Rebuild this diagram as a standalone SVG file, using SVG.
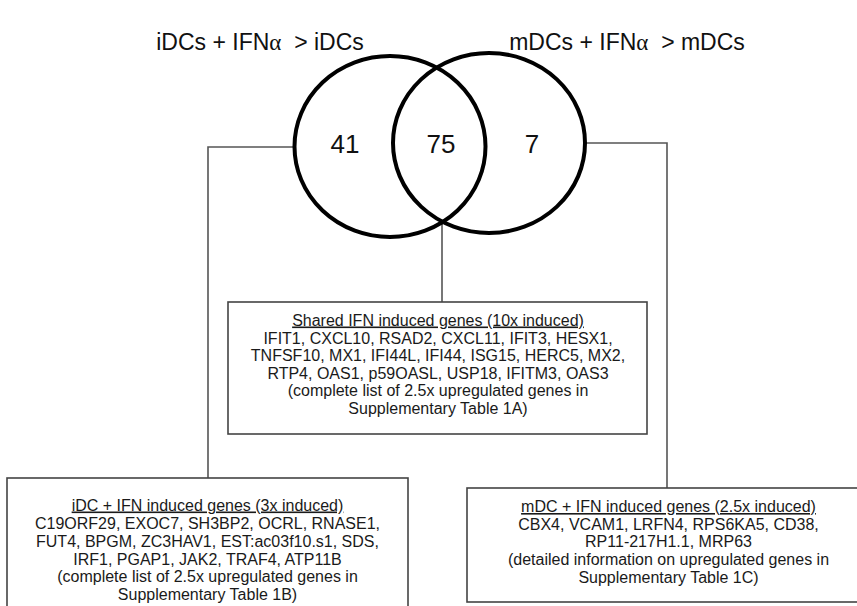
<svg xmlns="http://www.w3.org/2000/svg" width="857" height="606" viewBox="0 0 857 606">
  <style>
    .title { font-family: "Liberation Sans", Arial, sans-serif; font-size: 23px; fill: #111; text-anchor: middle; white-space: pre; }
    .greek { font-family: "Liberation Serif", "Times New Roman", serif; }
    .count { font-family: "Liberation Sans", Arial, sans-serif; font-size: 26px; fill: #111; text-anchor: middle; }
    .set { fill: none; stroke: #000; stroke-width: 4; }
    .box { fill: #fff; stroke: #444; stroke-width: 1.6; }
    .wire { fill: none; stroke: #555; stroke-width: 1.6; }
    .lbl { font-family: "Liberation Sans", Arial, sans-serif; font-size: 16px; fill: #1a1a1a; text-anchor: middle; }
    .head { text-decoration: underline; }
  </style>
  <rect width="857" height="606" fill="#fff"/>

  <!-- set titles -->
  <text class="title" x="260" y="50">iDCs + IFN<tspan class="greek">α</tspan>  &gt; iDCs</text>
  <text class="title" x="627" y="50">mDCs + IFN<tspan class="greek">α</tspan>  &gt; mDCs</text>

  <!-- connectors -->
  <g id="connectors">
    <polyline class="wire" points="294,147 208,147 208,478"/>
    <polyline class="wire" points="442,220 442,302"/>
    <polyline class="wire" points="585,143 667,143 667,488"/>
  </g>

  <!-- Venn sets -->
  <g id="venn">
    <ellipse id="set-idc" class="set" cx="390" cy="146.5" rx="95.5" ry="90.5"/>
    <ellipse id="set-mdc" class="set" cx="489" cy="143" rx="96" ry="90"/>
    <text class="count" x="345" y="153">41</text>
    <text class="count" x="441" y="153">75</text>
    <text class="count" x="532" y="153">7</text>
  </g>

  <!-- shared genes -->
  <g id="shared-box">
    <rect class="box" x="228" y="302" width="419" height="132"/>
    <text class="lbl head" x="438" y="325.5">Shared IFN induced genes (10x induced)</text>
    <text class="lbl" x="438" y="343.5">IFIT1, CXCL10, RSAD2, CXCL11, IFIT3, HESX1,</text>
    <text class="lbl" x="438" y="361">TNFSF10, MX1, IFI44L, IFI44, ISG15, HERC5, MX2,</text>
    <text class="lbl" x="438" y="378.5">RTP4, OAS1, p59OASL, USP18, IFITM3, OAS3</text>
    <text class="lbl" x="438" y="396">(complete list of 2.5x upregulated genes in</text>
    <text class="lbl" x="438" y="413.5">Supplementary Table 1A)</text>
  </g>

  <!-- iDC-only genes -->
  <g id="idc-box">
    <rect class="box" x="7" y="478" width="401" height="140"/>
    <text class="lbl head" x="207.5" y="510.5">iDC + IFN induced genes (3x induced)</text>
    <text class="lbl" x="207.5" y="528.5">C19ORF29, EXOC7, SH3BP2, OCRL, RNASE1,</text>
    <text class="lbl" x="207.5" y="546.5">FUT4, BPGM, ZC3HAV1, EST:ac03f10.s1, SDS,</text>
    <text class="lbl" x="207.5" y="564.5">IRF1, PGAP1, JAK2, TRAF4, ATP11B</text>
    <text class="lbl" x="207.5" y="582">(complete list of 2.5x upregulated genes in</text>
    <text class="lbl" x="207.5" y="600">Supplementary Table 1B)</text>
  </g>

  <!-- mDC-only genes -->
  <g id="mdc-box">
    <rect class="box" x="467" y="488" width="403" height="114"/>
    <text class="lbl head" x="668.5" y="512">mDC + IFN induced genes (2.5x induced)</text>
    <text class="lbl" x="668.5" y="529.5">CBX4, VCAM1, LRFN4, RPS6KA5, CD38,</text>
    <text class="lbl" x="668.5" y="547">RP11-217H1.1, MRP63</text>
    <text class="lbl" x="668.5" y="565">(detailed information on upregulated genes in</text>
    <text class="lbl" x="668.5" y="582.5">Supplementary Table 1C)</text>
  </g>
</svg>
